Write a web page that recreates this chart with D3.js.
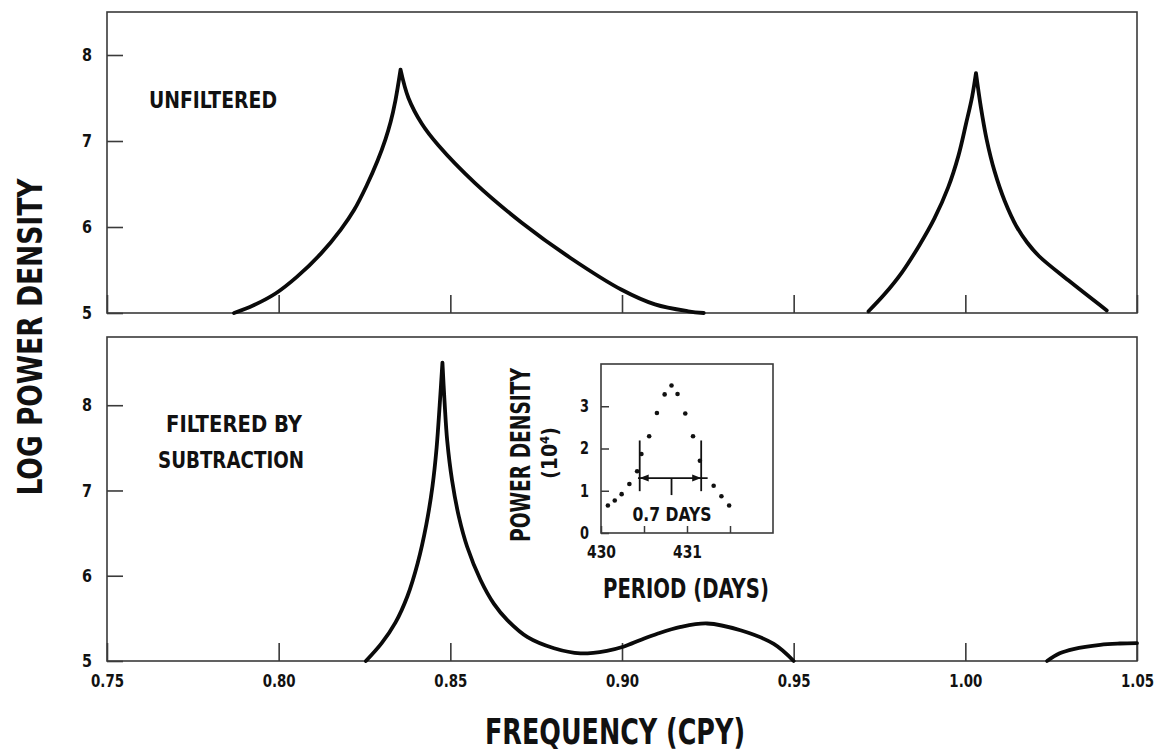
<!DOCTYPE html>
<html><head><meta charset="utf-8">
<script src="https://cdn.jsdelivr.net/npm/d3@7"></script>
<style>
html,body{margin:0;padding:0;background:#fff;}
svg text{font-family:"DejaVu Sans Condensed","DejaVu Sans",sans-serif;font-weight:bold;fill:#111;}
</style></head>
<body><svg id="c" width="1165" height="754"></svg>
<script>
// ---- data ----
const xTickValues = [0.75, 0.80, 0.85, 0.90, 0.95, 1.00, 1.05];
const yTickValues = [5, 6, 7, 8];

// Top panel (unfiltered), curve 1
const topFreq1 = [0.787,0.7927,0.7992,0.8053,0.8123,0.8181,0.822,0.8256,0.8288,0.8311,0.8326,0.834,0.8355,0.8378,0.8417,0.8465,0.8572,0.8708,0.8850,0.8999,0.9096,0.9193,0.9238];
const topVal1  = [5.0,5.09,5.23,5.42,5.69,5.97,6.20,6.48,6.77,7.02,7.22,7.47,7.83,7.50,7.20,6.95,6.51,6.05,5.64,5.27,5.10,5.02,5.0];
// Top panel, curve 2
const topFreq2 = [0.9718,0.9765,0.9815,0.9865,0.9910,0.9950,0.9980,1.0002,1.0020,1.0031,1.0045,1.0062,1.0085,1.0115,1.0150,1.0180,1.0215,1.0300,1.0412];
const topVal2  = [5.02,5.22,5.47,5.78,6.10,6.46,6.83,7.20,7.52,7.79,7.40,7.02,6.65,6.30,6.00,5.82,5.66,5.38,5.03];

// Bottom panel (filtered by subtraction), curve A
const botFreqA = [0.8254,0.8300,0.8340,0.8375,0.8405,0.8430,0.8448,0.8460,0.8469,0.8477,0.8483,0.8491,0.8505,0.8525,0.8549,0.8588,0.8627,0.8666,0.8725,0.8802,0.8879,0.8956,0.9006,0.9056,0.9103,0.9171,0.9248,0.9345,0.9442,0.95];
const botValA  = [5.0,5.21,5.45,5.76,6.15,6.60,7.05,7.50,8.0,8.50,8.05,7.58,7.12,6.69,6.34,5.95,5.67,5.48,5.28,5.15,5.09,5.12,5.17,5.25,5.32,5.40,5.44,5.36,5.20,5.0];
// Bottom panel, curve B
const botFreqB = [1.0238,1.0275,1.0315,1.0393,1.0450,1.05];
const botValB  = [5.0,5.09,5.14,5.19,5.205,5.21];

// Inset
const insetPeriods = [430.08,430.16,430.24,430.33,430.42,430.47,430.56,430.65,430.74,430.82,430.89,430.98,431.07,431.15,431.31,431.40,431.49];
const insetPowers  = [0.65,0.77,0.92,1.16,1.46,1.87,2.29,2.84,3.28,3.49,3.29,2.83,2.29,1.71,1.12,0.87,0.65];
const insetXTicks = [430, 430.5, 431, 431.5];
const insetXLabels = [430, 431];
const insetYTicks = [0, 1, 2, 3];
const widthBar = {left:430.45, right:431.165, center:430.82, y:1.30, lo:0.99, hi:2.19, lineL:430.43, lineR:431.24};

// ---- drawing ----
const svg = d3.select("#c");
const x = d3.scaleLinear().domain([0.75,1.05]).range([107,1137]);
const yTop = d3.scaleLinear().domain([5,8.5]).range([313,12]);
const yBot = d3.scaleLinear().domain([5,8.8]).range([661,337]);

const frameColor = "#3a3a3a";
function fitText(sel, len){ sel.attr("textLength", len).attr("lengthAdjust","spacingAndGlyphs"); }

function panel(y, showLabels){
  const [y0,y1] = y.range();
  svg.append("rect").attr("x",x.range()[0]).attr("y",y1)
    .attr("width",x.range()[1]-x.range()[0]).attr("height",y0-y1)
    .attr("fill","none").attr("stroke",frameColor).attr("stroke-width",1.6);
  const ax = d3.axisBottom(x).tickValues(xTickValues).tickSize(-18).tickPadding(13)
    .tickFormat(showLabels ? d3.format(".2f") : ()=> "");
  const gx = svg.append("g").attr("transform",`translate(0,${y0})`).call(ax);
  gx.select(".domain").remove();
  gx.selectAll("line").attr("stroke",frameColor).attr("stroke-width",1.6);
  gx.selectAll("text").style("font-size","18px").attr("fill","#111").each(function(){ fitText(d3.select(this),33); });
  const ay = d3.axisLeft(y).tickValues(yTickValues).tickSize(-16).tickPadding(15).tickFormat(d3.format("d"));
  const gy = svg.append("g").attr("transform",`translate(${x.range()[0]},0)`).call(ay);
  gy.select(".domain").remove();
  gy.selectAll("line").attr("stroke",frameColor).attr("stroke-width",1.6);
  gy.selectAll("text").style("font-size","18px").attr("fill","#111").each(function(){ fitText(d3.select(this),10); });
}
panel(yTop,false);
panel(yBot,true);

function curve(fx, vy, y){
  const pts = fx.map((f,i)=>[f,vy[i]]);
  // split at the highest point so the peak stays a sharp cusp
  let pk = d3.maxIndex(vy);
  const segs = [pts.slice(0,pk+1), pts.slice(pk)].filter(s=>s.length>1);
  const line = d3.line().x(d=>x(d[0])).y(d=>y(d[1])).curve(d3.curveCatmullRom.alpha(0.5));
  svg.append("path").attr("d",segs.map(s=>line(s)).join("")).attr("fill","none").attr("stroke","#0a0a0a")
    .attr("stroke-width",3.8).attr("stroke-linejoin","round").attr("stroke-linecap","round");
}
curve(topFreq1, topVal1, yTop);
curve(topFreq2, topVal2, yTop);
curve(botFreqA, botValA, yBot);
curve(botFreqB, botValB, yBot);

// panel texts
const t1 = svg.append("text").attr("x",213).attr("y",108).attr("text-anchor","middle").style("font-size","23px").text("UNFILTERED"); fitText(t1,128);
const t2 = svg.append("text").attr("x",234).attr("y",432).attr("text-anchor","middle").style("font-size","23px").text("FILTERED BY"); fitText(t2,136);
const t3 = svg.append("text").attr("x",231).attr("y",468).attr("text-anchor","middle").style("font-size","23px").text("SUBTRACTION"); fitText(t3,146);

// axis titles
const xt = svg.append("text").attr("x",615).attr("y",744).attr("text-anchor","middle").style("font-size","35px").text("FREQUENCY (CPY)"); fitText(xt,260);
const yt = svg.append("text").attr("transform","translate(42,337) rotate(-90)").attr("text-anchor","middle").style("font-size","34px").text("LOG POWER DENSITY"); fitText(yt,317);

// ---- inset ----
const xin = d3.scaleLinear().domain([430,432]).range([601,773]);
const yin = d3.scaleLinear().domain([0,4]).range([533,364]);
svg.append("rect").attr("x",601).attr("y",364).attr("width",172).attr("height",169)
  .attr("fill","none").attr("stroke",frameColor).attr("stroke-width",1.6);
const gix = svg.append("g").attr("transform","translate(0,533)")
  .call(d3.axisBottom(xin).tickValues(insetXTicks).tickSize(-7).tickPadding(13)
    .tickFormat(d=> insetXLabels.includes(d) ? d3.format("d")(d) : ""));
gix.select(".domain").remove();
gix.selectAll("line").attr("stroke",frameColor).attr("stroke-width",1.5);
gix.selectAll("text").style("font-size","17px").attr("fill","#111").each(function(){ if(d3.select(this).text()) fitText(d3.select(this),29); });
const giy = svg.append("g").attr("transform","translate(601,0)")
  .call(d3.axisLeft(yin).tickValues(insetYTicks).tickSize(-8).tickPadding(12).tickFormat(d3.format("d")));
giy.select(".domain").remove();
giy.selectAll("line").attr("stroke",frameColor).attr("stroke-width",1.5);
giy.selectAll("text").style("font-size","17px").attr("fill","#111").each(function(){ fitText(d3.select(this),9); });

svg.append("g").selectAll("circle").data(insetPeriods.map((p,i)=>[p,insetPowers[i]])).join("circle")
  .attr("cx",d=>xin(d[0])).attr("cy",d=>yin(d[1])).attr("r",2.3).attr("fill","#111");

// 0.7 day width marker
const wb = svg.append("g").attr("stroke","#111").attr("stroke-width",1.8);
wb.append("line").attr("x1",xin(widthBar.lineL)).attr("x2",xin(widthBar.lineR)).attr("y1",yin(widthBar.y)).attr("y2",yin(widthBar.y));
wb.append("line").attr("x1",xin(widthBar.left)).attr("x2",xin(widthBar.left)).attr("y1",yin(widthBar.hi)).attr("y2",yin(widthBar.lo));
wb.append("line").attr("x1",xin(widthBar.right)).attr("x2",xin(widthBar.right)).attr("y1",yin(widthBar.hi)).attr("y2",yin(widthBar.lo));
wb.append("line").attr("x1",xin(widthBar.center)).attr("x2",xin(widthBar.center)).attr("y1",yin(widthBar.y)).attr("y2",yin(widthBar.y)+17);
const ay0 = yin(widthBar.y);
const lx = xin(widthBar.left), rx = xin(widthBar.right);
svg.append("path").attr("d",`M${lx},${ay0} L${lx+9},${ay0-3.5} L${lx+9},${ay0+3.5} Z`).attr("fill","#111");
svg.append("path").attr("d",`M${rx},${ay0} L${rx-9},${ay0-3.5} L${rx-9},${ay0+3.5} Z`).attr("fill","#111");
const dl = svg.append("text").attr("x",672).attr("y",521).attr("text-anchor","middle").style("font-size","19px").text("0.7 DAYS"); fitText(dl,79);

// inset titles
const pl = svg.append("text").attr("x",686).attr("y",598).attr("text-anchor","middle").style("font-size","26px").text("PERIOD (DAYS)"); fitText(pl,166);
const pd = svg.append("text").attr("transform","translate(530,455) rotate(-90)").attr("text-anchor","middle").style("font-size","26px").text("POWER DENSITY"); fitText(pd,174);
const pu = svg.append("text").attr("transform","translate(557,453) rotate(-90)").attr("text-anchor","middle").style("font-size","21px");
pu.append("tspan").text("(10");
pu.append("tspan").attr("dy",-8).style("font-size","13px").text("4");
pu.append("tspan").attr("dy",8).text(")");
</script></body></html>
